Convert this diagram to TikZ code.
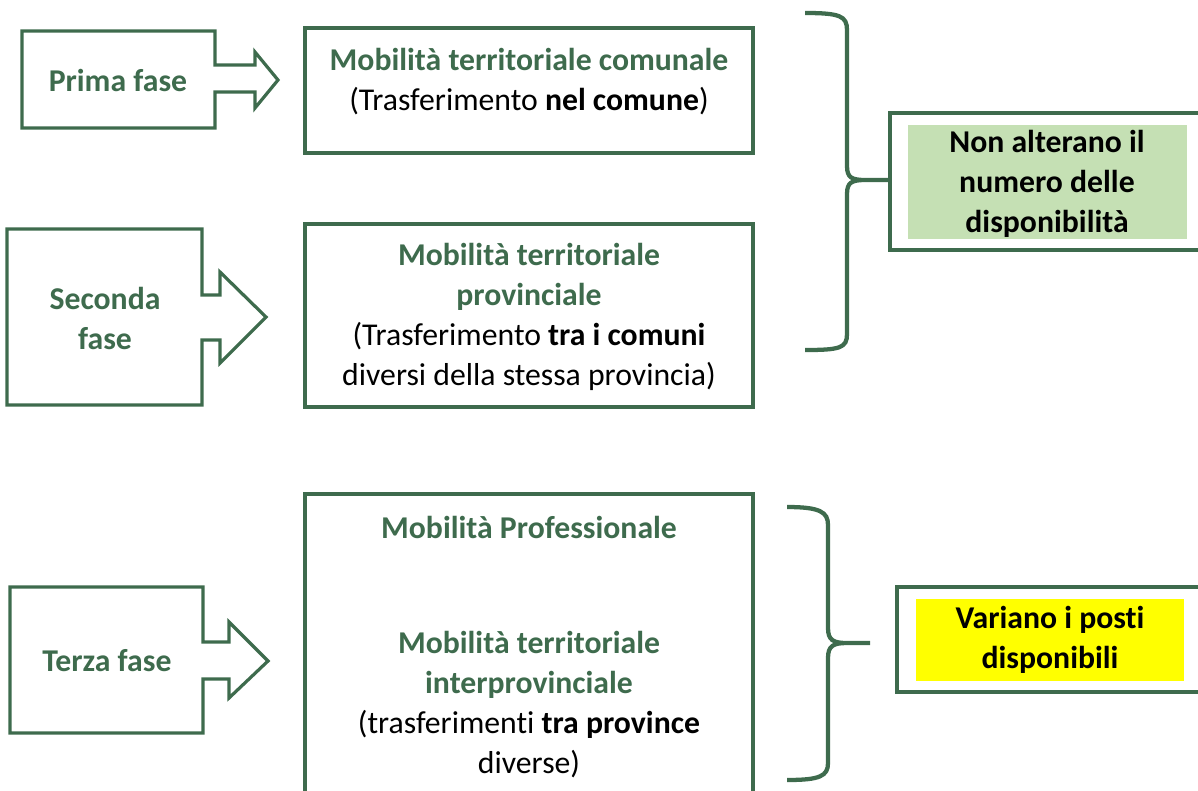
\documentclass[tikz,border=0pt]{standalone}
\usepackage{fontspec}
\setmainfont[Ligatures=NoCommon]{Carlito}
\usetikzlibrary{positioning}
\definecolor{fasegreen}{HTML}{3E6B4D}
\definecolor{notegreen}{HTML}{C5E0B4}
\definecolor{noteyellow}{HTML}{FFFF00}
\tikzset{frame/.style={draw=fasegreen,line width=2.4pt,line join=miter},
         brace/.style={draw=fasegreen,line width=3.2pt},
         title/.style={text=fasegreen,font=\bfseries,align=center,inner sep=0pt},
         body/.style={align=center,inner sep=0pt},
         note/.style={font=\bfseries,align=center,inner sep=0pt}
}

\begin{document}
\fontsize{23.8}{30}\selectfont
\begin{tikzpicture}[x=0.75pt,y=-0.75pt]
\clip (0,0) rectangle (1198,790);

% fasi
\draw[frame] (22,31) -- (215,31) -- (215,65) -- (255,65) -- (255,52) -- (278,80) -- (255,108) -- (255,92) -- (215,92) -- (215,128) -- (22,128) -- cycle;
\draw[frame] (7,229) -- (202,229) -- (202,295) -- (220,295) -- (220,272) -- (266,317) -- (220,363) -- (220,340) -- (202,340) -- (202,405) -- (7,405) -- cycle;
\draw[frame] (10,587) -- (203,587) -- (203,642) -- (229,642) -- (229,622) -- (268,661) -- (229,698) -- (229,679) -- (203,679) -- (203,733) -- (10,733) -- cycle;
\node[title] (prima) at (118,80) {Prima fase};
\node[title] (seconda) at (105,318) {Seconda\\fase};
\node[title] (terza) at (107,661) {Terza fase};

% mobilita
\draw[frame] (305,28) rectangle (753,153);
\draw[frame] (305,224) rectangle (753,407);
\draw[frame] (305,494) rectangle (753,800);
\node[body] (comunale) at (529,82) {\textcolor{fasegreen}{\bfseries Mobilità territoriale comunale}\\(Trasferimento \textbf{nel comune})};
\node[body] (provinciale) at (529,317) {\textcolor{fasegreen}{\bfseries Mobilità territoriale}\\\textcolor{fasegreen}{\bfseries provinciale}\\(Trasferimento \textbf{tra i comuni}\\diversi della stessa provincia)};
\node[title] (professionale) at (529,527) {Mobilità Professionale};
\node[body] (interprov) at (529,705) {\textcolor{fasegreen}{\bfseries Mobilità territoriale}\\\textcolor{fasegreen}{\bfseries interprovinciale}\\(trasferimenti \textbf{tra province}\\diverse)};

% graffe
\draw[brace] (805,13) .. controls (840,13) and (847,16) .. (847,30) -- (847,166)
  .. controls (847,178) and (852,180) .. (866,180) -- (888,180) -- (866,180)
  .. controls (852,180) and (847,182) .. (847,194) -- (847,334)
  .. controls (847,348) and (840,350) .. (805,350);
\draw[brace] (787,507) .. controls (820,507) and (828,512) .. (828,525) -- (828,628)
  .. controls (828,640) and (833,643) .. (847,643) -- (870,643) -- (847,643)
  .. controls (833,643) and (828,646) .. (828,658) -- (828,763)
  .. controls (828,776) and (820,780) .. (787,780);

% note
\draw[frame] (890,113) rectangle (1215,250);
\fill[notegreen] (908,125) rectangle (1187,239);
\node[note] (nonalterano) at (1047,184) {Non alterano il\\numero delle\\disponibilità};
\draw[frame] (897,587) rectangle (1215,692);
\fill[noteyellow] (916,599) rectangle (1184,681);
\node[note] (variano) at (1050,640) {Variano i posti\\disponibili};

\end{tikzpicture}
\end{document}
